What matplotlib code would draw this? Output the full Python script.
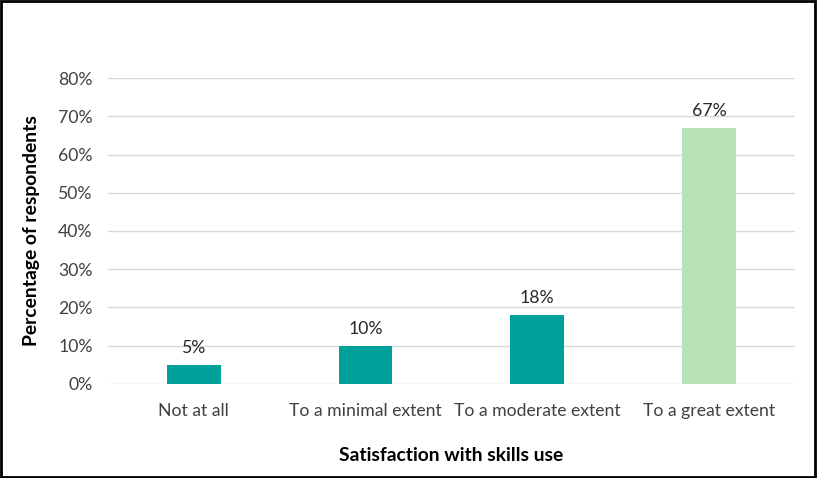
import matplotlib
matplotlib.use("Agg")
import matplotlib.pyplot as plt
from matplotlib.patches import Rectangle
from matplotlib.ticker import PercentFormatter

categories = ["Not at all", "To a minimal extent", "To a moderate extent", "To a great extent"]
values = [0.05, 0.10, 0.18, 0.67]
labels = ["5%", "10%", "18%", "67%"]
colors = ["#00A19A", "#00A19A", "#00A19A", "#B8E3B6"]

plt.rcParams["font.family"] = ["Lato", "DejaVu Sans"]

fig = plt.figure(figsize=(8.17, 4.78), dpi=100)
ax = fig.add_axes([0.132, 0.1967, 0.841, 0.6401])

x = range(len(categories))
bars = ax.bar(x, values, width=0.314, color=colors, zorder=3)
for b, lab in zip(bars, labels):
    ax.text(b.get_x() + b.get_width() / 2, b.get_height() + 0.024, lab,
            ha="center", va="bottom", fontsize=12.7, color="#262626")

ax.set_xlim(-0.5, 3.5)
ax.set_ylim(0, 0.8)
ax.set_yticks([i / 10 for i in range(9)])
ax.yaxis.set_major_formatter(PercentFormatter(1.0, decimals=0))
ax.set_xticks(list(x))
ax.set_xticklabels(categories)
ax.tick_params(axis="both", length=0, labelsize=12.7, colors="#404040")
ax.tick_params(axis="x", pad=14)
ax.tick_params(axis="y", pad=11)
ax.grid(axis="y", color="#D9D9D9", linewidth=1, zorder=0)
for s in ax.spines.values():
    s.set_visible(False)

ax.set_xlabel("Satisfaction with skills use", fontsize=13.9, fontweight="bold", labelpad=20)
ax.set_ylabel("Percentage of respondents", fontsize=13.9, fontweight="bold", labelpad=13)

fig.patches.append(Rectangle((0.001, 0.002), 0.997, 0.995, transform=fig.transFigure,
                             fill=False, edgecolor="black", linewidth=2))

fig.savefig("out.png", dpi=100)
